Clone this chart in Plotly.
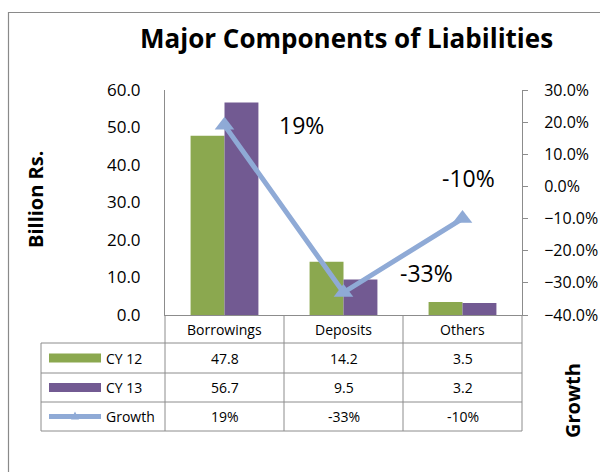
import plotly.graph_objects as go

# Chart data
categories = ["Borrowings", "Deposits", "Others"]
cy12 = [47.8, 14.2, 3.5]
cy13 = [56.7, 9.5, 3.2]
growth = [0.19, -0.33, -0.10]

series_names = ["CY 12", "CY 13", "Growth"]
left_ticks = [0, 10, 20, 30, 40, 50, 60]
right_ticks = [-0.4, -0.3, -0.2, -0.1, 0.0, 0.1, 0.2, 0.3]

GREEN = "#8BA84F"
PURPLE = "#725A92"
BLUE = "#8FAAD6"
GRID = "#8C8C8C"
FONT = "Open Sans"

W, H = 600, 472
L, R, T, B = 165, 522, 90, 315  # plot area in pixels


def px(x):
    return (x - L) / (R - L)


def py(y):
    return (B - y) / (B - T)


fig = go.Figure()
fig.add_trace(go.Bar(x=categories, y=cy12, name=series_names[0],
                     marker=dict(color=GREEN, line=dict(width=0))))
fig.add_trace(go.Bar(x=categories, y=cy13, name=series_names[1],
                     marker=dict(color=PURPLE, line=dict(width=0))))
fig.add_trace(go.Scatter(x=categories, y=growth, name=series_names[2], yaxis="y2",
                         mode="lines+markers",
                         line=dict(color=BLUE, width=5),
                         marker=dict(symbol="triangle-up", size=17, color=BLUE)))

# Growth labels, offset from their points
label_offsets = [(77, 0), (83, 20), (6, 41)]
annotations = []
for cat, g, (dx, dy) in zip(categories, growth, label_offsets):
    annotations.append(dict(x=cat, y=g, xref="x", yref="y2", text=f"{g:.0%}",
                            showarrow=False, xshift=dx, yshift=dy,
                            xanchor="center", yanchor="middle",
                            font=dict(family=FONT, size=23, color="black")))

shapes = []
line = dict(color=GRID, width=1)

# Outer chart border
shapes.append(dict(type="rect", xref="paper", yref="paper",
                   x0=px(8.5), x1=px(640), y0=py(12.5), y1=py(520),
                   line=dict(color="#8A8A8A", width=1.2), layer="below"))

# Data table grid
col_edges = [165, 284, 403, 522]
row_edges = [315, 343, 373, 402, 431]
tbl_left = 41
for xe in col_edges:
    shapes.append(dict(type="line", xref="paper", yref="paper",
                       x0=px(xe), x1=px(xe), y0=py(315), y1=py(431), line=line))
shapes.append(dict(type="line", xref="paper", yref="paper",
                   x0=px(tbl_left), x1=px(tbl_left), y0=py(343), y1=py(431), line=line))
for ye in row_edges[1:]:
    shapes.append(dict(type="line", xref="paper", yref="paper",
                       x0=px(tbl_left), x1=px(522), y0=py(ye), y1=py(ye), line=line))

tfont = dict(family=FONT, size=14, color="black")
col_centers = [(a + b) / 2 for a, b in zip(col_edges[:-1], col_edges[1:])]
row_centers = [(a + b) / 2 for a, b in zip(row_edges[:-1], row_edges[1:])]


def cell(x, y, text, xanchor="center", font=tfont, **kw):
    annotations.append(dict(x=px(x), y=py(y), xref="paper", yref="paper", text=text,
                            showarrow=False, xanchor=xanchor, yanchor="middle",
                            font=font, **kw))


for c, cx in zip(categories, col_centers):
    cell(cx, row_centers[0], c)
rows = [[f"{v:.1f}" for v in cy12], [f"{v:.1f}" for v in cy13], [f"{v:.0%}" for v in growth]]
for r, vals in enumerate(rows):
    for v, cx in zip(vals, col_centers):
        cell(cx, row_centers[r + 1], v)
    cell(104, row_centers[r + 1], series_names[r], xanchor="left")

# Legend keys inside the table
for r, col in enumerate([GREEN, PURPLE]):
    yc = row_centers[r + 1]
    shapes.append(dict(type="rect", xref="paper", yref="paper",
                       x0=px(49), x1=px(101), y0=py(yc - 4.5), y1=py(yc + 4.5),
                       fillcolor=col, line=dict(width=0)))
yc = row_centers[3]
shapes.append(dict(type="line", xref="paper", yref="paper",
                   x0=px(49), x1=px(101), y0=py(yc), y1=py(yc),
                   line=dict(color=BLUE, width=5)))
shapes.append(dict(type="path", xref="paper", yref="paper",
                   path=f"M {px(71)} {py(yc + 3)} L {px(79)} {py(yc + 3)} L {px(75)} {py(yc - 5)} Z",
                   fillcolor=BLUE, line=dict(width=0)))

# Title and axis titles
cell(346, 38, "<b>Major Components of Liabilities</b>",
     font=dict(family=FONT, size=26, color="black"))
cell(35, 200, "<b>Billion Rs.</b>", textangle=-90,
     font=dict(family=FONT, size=20, color="black"))
cell(572, 401, "<b>Growth</b>", textangle=-90,
     font=dict(family=FONT, size=20, color="black"))

fig.update_layout(
    width=W, height=H,
    margin=dict(l=L, r=W - R, t=T, b=H - B, autoexpand=False),
    paper_bgcolor="white", plot_bgcolor="white",
    barmode="group", bargap=0.43, bargroupgap=0,
    showlegend=False,
    font=dict(family=FONT, size=16, color="black"),
    xaxis=dict(showticklabels=False, showline=True, linecolor=GRID, linewidth=1,
               ticks="", showgrid=False, zeroline=False, automargin=False),
    yaxis=dict(range=[0, 60], tickvals=left_ticks, tickformat=".1f",
               showline=True, linecolor=GRID, linewidth=1, ticks="",
               showgrid=False, zeroline=False, ticklabelstandoff=20, automargin=False,
               tickfont=dict(family=FONT, size=17, color="black")),
    yaxis2=dict(range=[-0.4, 0.3], tickvals=right_ticks, tickformat=".1%",
                overlaying="y", side="right", showline=True, linecolor=GRID, linewidth=1,
                ticks="outside", ticklen=5, tickcolor=GRID, showgrid=False, zeroline=False,
                ticklabelstandoff=13, automargin=False,
                tickfont=dict(family=FONT, size=16, color="black")),
    shapes=shapes,
    annotations=annotations,
)

fig.write_html("out.html")
